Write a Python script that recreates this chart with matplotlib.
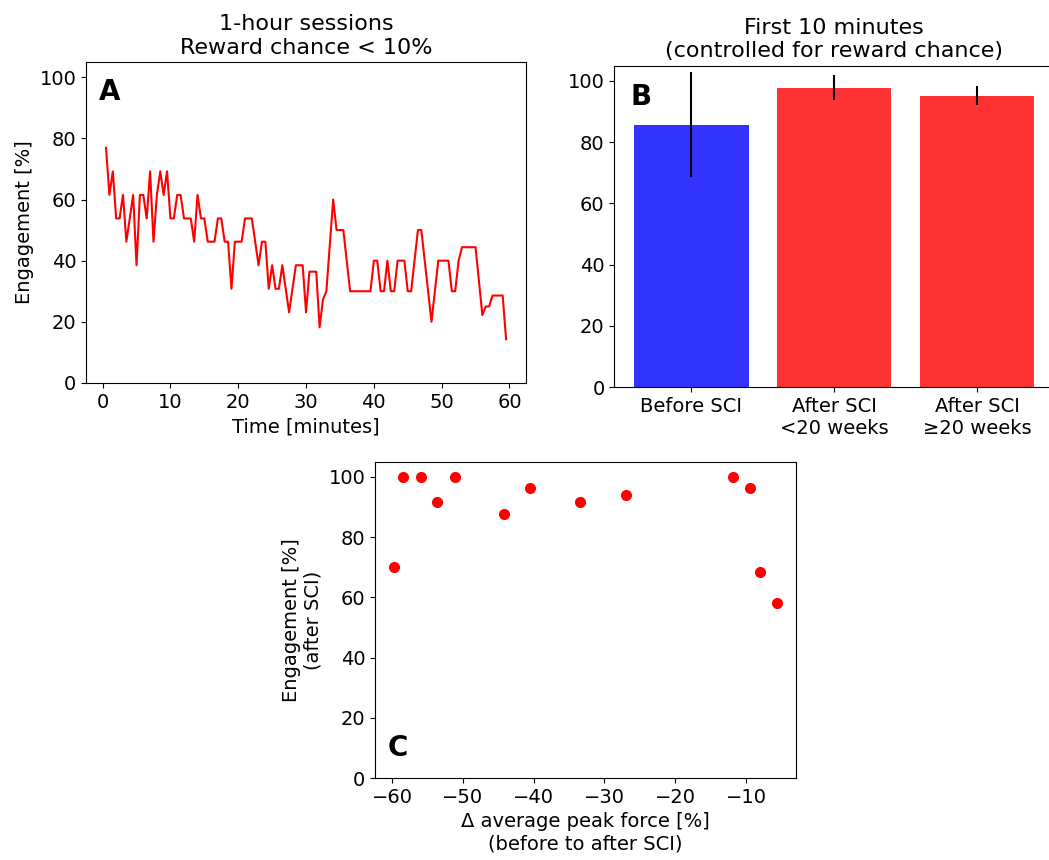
import matplotlib
matplotlib.use('Agg')
import matplotlib.pyplot as plt
import numpy as np

# A: engagement per 30-s bin over a 1-hour session
engagement_a = [
    76.9, 61.5, 69.2, 53.8, 53.8, 61.5, 46.2, 53.8, 61.5, 38.5,
    61.5, 61.5, 53.8, 69.2, 46.2, 61.5, 69.2, 61.5, 69.2, 53.8,
    53.8, 61.5, 61.5, 53.8, 53.8, 53.8, 46.2, 61.5, 53.8, 53.8,
    46.2, 46.2, 46.2, 53.8, 53.8, 46.2, 46.2, 30.8, 46.2, 46.2,
    46.2, 53.8, 53.8, 53.8, 46.2, 38.5, 46.2, 46.2, 30.8, 38.5,
    30.8, 30.8, 38.5, 30.8, 23.1, 30.8, 38.5, 38.5, 38.5, 23.1,
    36.4, 36.4, 36.4, 18.2, 27.3, 30.0, 45.0, 60.0, 50.0, 50.0,
    50.0, 40.0, 30.0, 30.0, 30.0, 30.0, 30.0, 30.0, 30.0, 40.0,
    40.0, 30.0, 30.0, 40.0, 30.0, 30.0, 40.0, 40.0, 40.0, 30.0,
    30.0, 40.0, 50.0, 50.0, 40.0, 30.0, 20.0, 30.0, 40.0, 40.0,
    40.0, 40.0, 30.0, 30.0, 40.0, 44.4, 44.4, 44.4, 44.4, 44.4,
    33.3, 22.2, 25.0, 25.0, 28.6, 28.6, 28.6, 28.6, 14.3,
]
time_a = np.arange(1, len(engagement_a) + 1) * 0.5  # minutes

# B: first 10 minutes
groups_b = ['Before SCI', 'After SCI\n<20 weeks', 'After SCI\n\u226520 weeks']
means_b = [85.7, 97.8, 95.1]
errors_b = [17.2, 4.1, 3.1]
colors_b = ['#3333ff', '#ff3333', '#ff3333']

# C: engagement vs change in peak force
force_change_c = [-59.7, -58.4, -55.9, -53.6, -51.1, -44.2, -40.5,
                  -33.4, -27.0, -11.9, -9.5, -8.0, -5.7]
engagement_c = [70.1, 100.0, 100.0, 91.5, 100.0, 87.6, 96.4,
                91.5, 93.9, 100.0, 96.4, 68.3, 58.2]

plt.rcParams['font.family'] = ['DejaVu Sans']

fig = plt.figure(figsize=(10.49, 8.6), dpi=100)
ax_a = fig.add_axes([0.082, 0.5547, 0.4195, 0.3733])
ax_b = fig.add_axes([0.5856, 0.5497, 0.4195, 0.374])
ax_c = fig.add_axes([0.3575, 0.0951, 0.401, 0.368])

# panel A
ax_a.plot(time_a, engagement_a, color='red', lw=1.5)
ax_a.set_ylim(0, 105)
ax_a.set_xlabel('Time [minutes]', fontsize=14)
ax_a.set_ylabel('Engagement [%]', fontsize=14)
ax_a.set_title('1-hour sessions\nReward chance < 10%', fontsize=16)
ax_a.text(0.03, 0.95, 'A', transform=ax_a.transAxes, fontsize=20,
          fontweight='bold', va='top', ha='left')

# panel B
x_b = np.arange(len(groups_b))
ax_b.bar(x_b, means_b, yerr=errors_b, color=colors_b, width=0.8,
         error_kw=dict(ecolor='black', elinewidth=1.5, capsize=0))
ax_b.set_xticks(x_b)
ax_b.set_xticklabels(groups_b)
ax_b.set_ylim(0, 105)
ax_b.set_title('First 10 minutes\n(controlled for reward chance)', fontsize=16)
ax_b.text(0.036, 0.945, 'B', transform=ax_b.transAxes, fontsize=20,
          fontweight='bold', va='top', ha='left')
ax_b.spines['right'].set_visible(False)  # cut off in the original

# panel C
ax_c.plot(force_change_c, engagement_c, 'o', color='red', ms=7)
ax_c.set_ylim(0, 105)
ax_c.set_xlabel('\u0394 average peak force [%]\n(before to after SCI)', fontsize=14)
ax_c.set_ylabel('Engagement [%]\n(after SCI)', fontsize=14)
ax_c.text(0.03, 0.05, 'C', transform=ax_c.transAxes, fontsize=20,
          fontweight='bold', va='bottom', ha='left')

for ax in (ax_a, ax_b, ax_c):
    ax.tick_params(labelsize=14)

fig.savefig('out.png', dpi=100)
